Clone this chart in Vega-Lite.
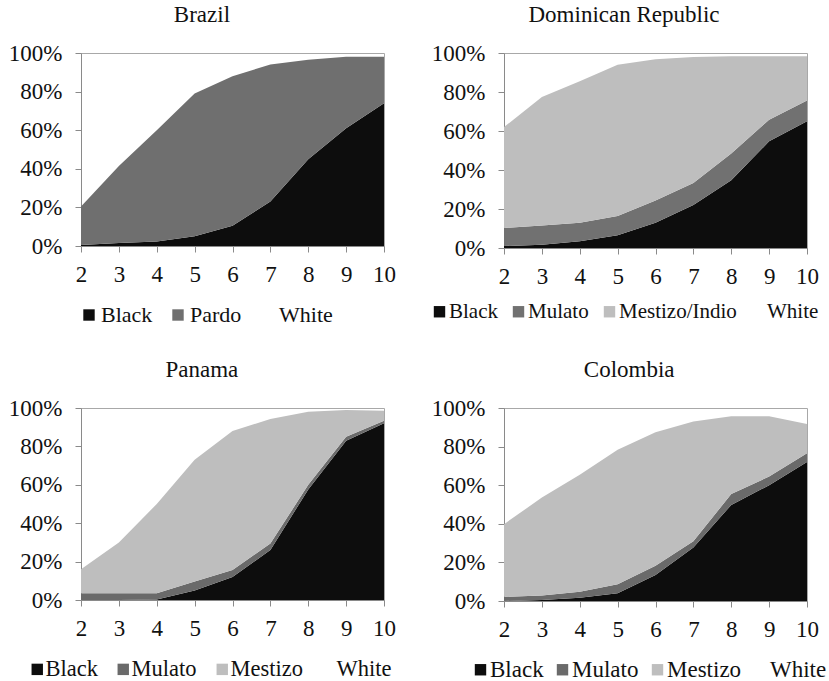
{
  "$schema": "https://vega.github.io/schema/vega-lite/v6.json",
  "background": "white",
  "padding": {"left": 7, "top": 3, "right": 2, "bottom": 2},
  "datasets": {
    "brazil": [
      {"grade": 2, "group": "Black", "share": 0.5}, {"grade": 2, "group": "Pardo", "share": 20}, {"grade": 2, "group": "White", "share": 79.5},
      {"grade": 3, "group": "Black", "share": 1.5}, {"grade": 3, "group": "Pardo", "share": 40}, {"grade": 3, "group": "White", "share": 58.5},
      {"grade": 4, "group": "Black", "share": 2.3}, {"grade": 4, "group": "Pardo", "share": 57.7}, {"grade": 4, "group": "White", "share": 40},
      {"grade": 5, "group": "Black", "share": 5}, {"grade": 5, "group": "Pardo", "share": 74}, {"grade": 5, "group": "White", "share": 21},
      {"grade": 6, "group": "Black", "share": 10.5}, {"grade": 6, "group": "Pardo", "share": 77.5}, {"grade": 6, "group": "White", "share": 12},
      {"grade": 7, "group": "Black", "share": 23}, {"grade": 7, "group": "Pardo", "share": 71}, {"grade": 7, "group": "White", "share": 6},
      {"grade": 8, "group": "Black", "share": 45}, {"grade": 8, "group": "Pardo", "share": 51.5}, {"grade": 8, "group": "White", "share": 3.5},
      {"grade": 9, "group": "Black", "share": 61}, {"grade": 9, "group": "Pardo", "share": 37}, {"grade": 9, "group": "White", "share": 2},
      {"grade": 10, "group": "Black", "share": 74}, {"grade": 10, "group": "Pardo", "share": 24}, {"grade": 10, "group": "White", "share": 2}
    ],
    "dominican": [
      {"grade": 2, "group": "Black", "share": 1}, {"grade": 2, "group": "Mulato", "share": 9.3}, {"grade": 2, "group": "Mestizo/Indio", "share": 51.7}, {"grade": 2, "group": "White", "share": 38},
      {"grade": 3, "group": "Black", "share": 1.7}, {"grade": 3, "group": "Mulato", "share": 9.8}, {"grade": 3, "group": "Mestizo/Indio", "share": 65.9}, {"grade": 3, "group": "White", "share": 22.6},
      {"grade": 4, "group": "Black", "share": 3.4}, {"grade": 4, "group": "Mulato", "share": 9.6}, {"grade": 4, "group": "Mestizo/Indio", "share": 72.5}, {"grade": 4, "group": "White", "share": 14.5},
      {"grade": 5, "group": "Black", "share": 6.5}, {"grade": 5, "group": "Mulato", "share": 9.9}, {"grade": 5, "group": "Mestizo/Indio", "share": 77.6}, {"grade": 5, "group": "White", "share": 6},
      {"grade": 6, "group": "Black", "share": 13}, {"grade": 6, "group": "Mulato", "share": 11.4}, {"grade": 6, "group": "Mestizo/Indio", "share": 72.4}, {"grade": 6, "group": "White", "share": 3.2},
      {"grade": 7, "group": "Black", "share": 22}, {"grade": 7, "group": "Mulato", "share": 11.3}, {"grade": 7, "group": "Mestizo/Indio", "share": 64.7}, {"grade": 7, "group": "White", "share": 2},
      {"grade": 8, "group": "Black", "share": 34.7}, {"grade": 8, "group": "Mulato", "share": 13.7}, {"grade": 8, "group": "Mestizo/Indio", "share": 49.9}, {"grade": 8, "group": "White", "share": 1.7},
      {"grade": 9, "group": "Black", "share": 54.7}, {"grade": 9, "group": "Mulato", "share": 11.1}, {"grade": 9, "group": "Mestizo/Indio", "share": 32.5}, {"grade": 9, "group": "White", "share": 1.7},
      {"grade": 10, "group": "Black", "share": 65}, {"grade": 10, "group": "Mulato", "share": 10.7}, {"grade": 10, "group": "Mestizo/Indio", "share": 22.6}, {"grade": 10, "group": "White", "share": 1.7}
    ],
    "panama": [
      {"grade": 2, "group": "Black", "share": 0}, {"grade": 2, "group": "Mulato", "share": 3.5}, {"grade": 2, "group": "Mestizo", "share": 12.5}, {"grade": 2, "group": "White", "share": 84},
      {"grade": 3, "group": "Black", "share": 0}, {"grade": 3, "group": "Mulato", "share": 3.5}, {"grade": 3, "group": "Mestizo", "share": 26.5}, {"grade": 3, "group": "White", "share": 70},
      {"grade": 4, "group": "Black", "share": 0.3}, {"grade": 4, "group": "Mulato", "share": 3.2}, {"grade": 4, "group": "Mestizo", "share": 46.5}, {"grade": 4, "group": "White", "share": 50},
      {"grade": 5, "group": "Black", "share": 5}, {"grade": 5, "group": "Mulato", "share": 4.7}, {"grade": 5, "group": "Mestizo", "share": 63.3}, {"grade": 5, "group": "White", "share": 27},
      {"grade": 6, "group": "Black", "share": 12}, {"grade": 6, "group": "Mulato", "share": 3.6}, {"grade": 6, "group": "Mestizo", "share": 72.4}, {"grade": 6, "group": "White", "share": 12},
      {"grade": 7, "group": "Black", "share": 26}, {"grade": 7, "group": "Mulato", "share": 3.4}, {"grade": 7, "group": "Mestizo", "share": 64.9}, {"grade": 7, "group": "White", "share": 5.7},
      {"grade": 8, "group": "Black", "share": 57.6}, {"grade": 8, "group": "Mulato", "share": 2.4}, {"grade": 8, "group": "Mestizo", "share": 38}, {"grade": 8, "group": "White", "share": 2},
      {"grade": 9, "group": "Black", "share": 83}, {"grade": 9, "group": "Mulato", "share": 2}, {"grade": 9, "group": "Mestizo", "share": 14}, {"grade": 9, "group": "White", "share": 1},
      {"grade": 10, "group": "Black", "share": 92}, {"grade": 10, "group": "Mulato", "share": 1.4}, {"grade": 10, "group": "Mestizo", "share": 5.2}, {"grade": 10, "group": "White", "share": 1.4}
    ],
    "colombia": [
      {"grade": 2, "group": "Black", "share": 0}, {"grade": 2, "group": "Mulato", "share": 2.2}, {"grade": 2, "group": "Mestizo", "share": 37.6}, {"grade": 2, "group": "White", "share": 60.2},
      {"grade": 3, "group": "Black", "share": 0.5}, {"grade": 3, "group": "Mulato", "share": 2.3}, {"grade": 3, "group": "Mestizo", "share": 50.8}, {"grade": 3, "group": "White", "share": 46.4},
      {"grade": 4, "group": "Black", "share": 1.7}, {"grade": 4, "group": "Mulato", "share": 3.1}, {"grade": 4, "group": "Mestizo", "share": 60.6}, {"grade": 4, "group": "White", "share": 34.6},
      {"grade": 5, "group": "Black", "share": 4}, {"grade": 5, "group": "Mulato", "share": 4.7}, {"grade": 5, "group": "Mestizo", "share": 69.7}, {"grade": 5, "group": "White", "share": 21.6},
      {"grade": 6, "group": "Black", "share": 13.5}, {"grade": 6, "group": "Mulato", "share": 4.8}, {"grade": 6, "group": "Mestizo", "share": 69.2}, {"grade": 6, "group": "White", "share": 12.5},
      {"grade": 7, "group": "Black", "share": 27.7}, {"grade": 7, "group": "Mulato", "share": 3.3}, {"grade": 7, "group": "Mestizo", "share": 62}, {"grade": 7, "group": "White", "share": 7},
      {"grade": 8, "group": "Black", "share": 49.8}, {"grade": 8, "group": "Mulato", "share": 5.6}, {"grade": 8, "group": "Mestizo", "share": 40.3}, {"grade": 8, "group": "White", "share": 4.3},
      {"grade": 9, "group": "Black", "share": 60}, {"grade": 9, "group": "Mulato", "share": 4.5}, {"grade": 9, "group": "Mestizo", "share": 31.2}, {"grade": 9, "group": "White", "share": 4.3},
      {"grade": 10, "group": "Black", "share": 72}, {"grade": 10, "group": "Mulato", "share": 4.6}, {"grade": 10, "group": "Mestizo", "share": 15.1}, {"grade": 10, "group": "White", "share": 8.3}
    ]
  },
  "columns": 2,
  "spacing": {"row": 160, "column": 120},
  "bounds": "flush",
  "resolve": {"scale": {"color": "independent", "x": "independent", "y": "independent"}, "legend": {"color": "independent"}},
  "concat": [
    {
      "title": "Brazil",
      "width": 303, "height": 193,
      "data": {"name": "brazil"},
      "transform": [{"calculate": "indexof(['Black','Pardo','Mulato','Mestizo','Mestizo/Indio','White'], datum.group)", "as": "rank"}],
      "mark": "area",
      "encoding": {
        "x": {"field": "grade", "type": "quantitative", "scale": {"domain": [2, 10]}, "axis": {"values": [2, 3, 4, 5, 6, 7, 8, 9, 10], "title": null}},
        "y": {"field": "share", "type": "quantitative", "stack": "zero", "scale": {"domain": [0, 100], "nice": false}, "axis": {"values": [0, 20, 40, 60, 80, 100], "labelExpr": "datum.value + '%'", "title": null}},
        "color": {"field": "group", "type": "nominal", "scale": {"domain": ["Black", "Pardo", "White"], "range": ["#0d0d0d", "#6f6f6f", "rgba(255,255,255,0)"]}, "legend": {"legendX": -3, "legendY": 251, "labelFontSize": 22, "labelOffset": 1, "columnPadding": 14}},
        "order": {"field": "rank", "type": "quantitative"}
      }
    },
    {
      "title": "Dominican Republic",
      "width": 303, "height": 195,
      "data": {"name": "dominican"},
      "transform": [{"calculate": "indexof(['Black','Pardo','Mulato','Mestizo','Mestizo/Indio','White'], datum.group)", "as": "rank"}],
      "mark": "area",
      "encoding": {
        "x": {"field": "grade", "type": "quantitative", "scale": {"domain": [2, 10]}, "axis": {"values": [2, 3, 4, 5, 6, 7, 8, 9, 10], "title": null}},
        "y": {"field": "share", "type": "quantitative", "stack": "zero", "scale": {"domain": [0, 100], "nice": false}, "axis": {"values": [0, 20, 40, 60, 80, 100], "labelExpr": "datum.value + '%'", "title": null}},
        "color": {"field": "group", "type": "nominal", "scale": {"domain": ["Black", "Mulato", "Mestizo/Indio", "White"], "range": ["#0d0d0d", "#717171", "#bebebe", "rgba(255,255,255,0)"]}, "legend": {"legendX": -75, "legendY": 248, "labelFontSize": 21, "labelOffset": -1, "columnPadding": 10}},
        "order": {"field": "rank", "type": "quantitative"}
      }
    },
    {
      "title": "Panama",
      "width": 303, "height": 192,
      "data": {"name": "panama"},
      "transform": [{"calculate": "indexof(['Black','Pardo','Mulato','Mestizo','Mestizo/Indio','White'], datum.group)", "as": "rank"}],
      "mark": "area",
      "encoding": {
        "x": {"field": "grade", "type": "quantitative", "scale": {"domain": [2, 10]}, "axis": {"values": [2, 3, 4, 5, 6, 7, 8, 9, 10], "title": null}},
        "y": {"field": "share", "type": "quantitative", "stack": "zero", "scale": {"domain": [0, 100], "nice": false}, "axis": {"values": [0, 20, 40, 60, 80, 100], "labelExpr": "datum.value + '%'", "title": null}},
        "color": {"field": "group", "type": "nominal", "scale": {"domain": ["Black", "Mulato", "Mestizo", "White"], "range": ["#0d0d0d", "#6a6a6a", "#bebebe", "rgba(255,255,255,0)"]}, "legend": {"legendX": -55, "legendY": 250, "labelFontSize": 22.5, "labelOffset": -3, "columnPadding": 14}},
        "order": {"field": "rank", "type": "quantitative"}
      }
    },
    {
      "title": "Colombia",
      "width": 303, "height": 193,
      "data": {"name": "colombia"},
      "transform": [{"calculate": "indexof(['Black','Pardo','Mulato','Mestizo','Mestizo/Indio','White'], datum.group)", "as": "rank"}],
      "mark": "area",
      "encoding": {
        "x": {"field": "grade", "type": "quantitative", "scale": {"domain": [2, 10]}, "axis": {"values": [2, 3, 4, 5, 6, 7, 8, 9, 10], "title": null}},
        "y": {"field": "share", "type": "quantitative", "stack": "zero", "scale": {"domain": [0, 100], "nice": false}, "axis": {"values": [0, 20, 40, 60, 80, 100], "labelExpr": "datum.value + '%'", "title": null}},
        "color": {"field": "group", "type": "nominal", "scale": {"domain": ["Black", "Mulato", "Mestizo", "White"], "range": ["#0d0d0d", "#6a6a6a", "#bebebe", "rgba(255,255,255,0)"]}, "legend": {"legendX": -35, "legendY": 250, "labelFontSize": 23, "labelOffset": -2, "columnPadding": 7}},
        "order": {"field": "rank", "type": "quantitative"}
      }
    }
  ],
  "config": {
    "font": "Liberation Serif",
    "view": {"stroke": "#a8a8a8", "strokeWidth": 1},
    "area": {"interpolate": "linear", "line": false},
    "axis": {
      "grid": false,
      "labelFont": "Liberation Serif",
      "labelFontSize": 23,
      "labelColor": "#111111",
      "domainColor": "#8a8a8a",
      "tickColor": "#8a8a8a",
      "tickSize": 6,
      "labelOverlap": false,
      "labelFlush": false
    },
    "axisY": {"labelPadding": 13},
    "axisX": {"labelPadding": 11},
    "title": {
      "font": "Liberation Serif",
      "fontSize": 23,
      "fontWeight": "normal",
      "color": "#111111",
      "frame": "bounds",
      "anchor": "middle",
      "offset": 15
    },
    "legend": {
      "orient": "none",
      "direction": "horizontal",
      "title": null,
      "symbolType": "square",
      "symbolSize": 130,
      "symbolStrokeWidth": 0,
      "symbolOpacity": 1,
      "labelFont": "Liberation Serif",
      "labelColor": "#111111",
      "labelLimit": 300
    }
  }
}
